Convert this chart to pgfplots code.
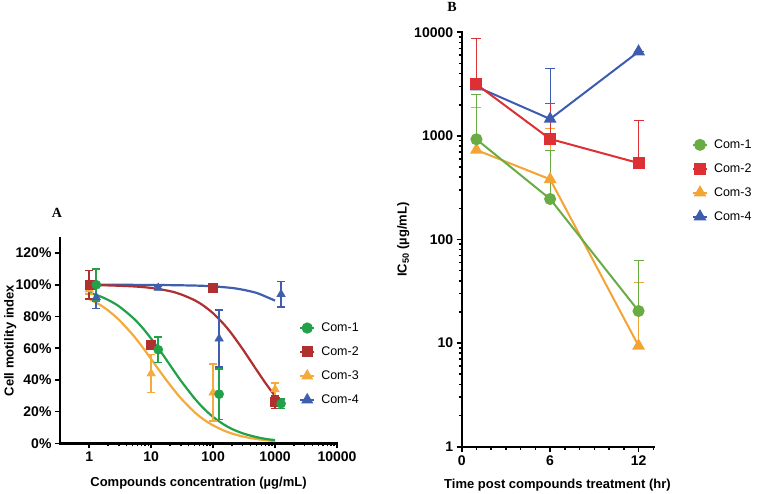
\documentclass[border=0pt]{standalone}
\usepackage{fontspec}
\setmainfont{Liberation Sans}
\newfontfamily\serifb{Liberation Serif}
\usepackage{pgfplots}
\pgfplotsset{compat=1.18}
\definecolor{gA}{RGB}{34,160,74}
\definecolor{rA}{RGB}{176,48,48}
\definecolor{oA}{RGB}{245,171,60}
\definecolor{bA}{RGB}{63,95,174}
\definecolor{gB}{RGB}{106,172,68}
\definecolor{rB}{RGB}{220,48,52}
\definecolor{oB}{RGB}{244,164,52}
\definecolor{bB}{RGB}{61,91,176}
\pgfplotsset{
  myaxis/.style={
    scale only axis,
    axis x line*=bottom, axis y line*=left,
    axis line style={line width=2.4pt, line cap=rect},
    tick align=outside,
    major tick length=5pt, minor tick length=3pt,
    every tick/.style={line width=1.6pt, black},
    /pgf/number format/assume math mode=true,
    tick label style={font=\fontsize{14}{16}\selectfont\bfseries},
    label style={font=\fontsize{13}{15}\selectfont\bfseries},
    legend style={draw=none, fill=none, font=\fontsize{12.5}{14}\selectfont, row sep=9.7pt, inner sep=0pt, legend cell align=left},
    legend image code/.code={\draw[mark repeat=2, mark phase=2] plot coordinates {(0pt,0pt)(7pt,0pt)(14pt,0pt)}; \path (18pt,0pt);},
    clip=false,
  }
}
\begin{document}
\begin{tikzpicture}
\path[use as bounding box] (0pt,0pt) rectangle (757pt,493pt);
\node[font=\serifb\bfseries\fontsize{14}{16}\selectfont] at (57pt,280.5pt) {A};
\node[font=\serifb\bfseries\fontsize{14}{16}\selectfont] at (452pt,486pt) {B};
% ---------------- Panel A
\begin{axis}[myaxis,
  at={(60pt,49.7pt)}, anchor=south west,
  width=277pt, height=205.3pt,
  xmode=log, xmin=0.337, xmax=10000,
  ymin=0, ymax=129.5,
  xtick={1,10,100,1000,10000}, xticklabels={1,10,100,1000,10000},
  ytick={0,20,40,60,80,100,120},
  yticklabels={0\%,20\%,40\%,60\%,80\%,100\%,120\%},
  minor ytick={},
  xlabel={Compounds concentration (µg/mL)},
  ylabel={Cell motility index},
  xlabel style={at={(axis description cs:0.5,-0.193)}, anchor=center},
  ylabel style={at={(axis description cs:-0.18,0.5)}, anchor=center},
  legend style={at={(axis description cs:0.863,0.597)}, anchor=north west},
]
\addlegendimage{gA, line width=2pt, mark=*, mark size=4.6pt}
\addlegendentry{Com-1}
\addlegendimage{rA, line width=2pt, mark=square*, mark size=4.5pt}
\addlegendentry{Com-2}
\addlegendimage{oA, line width=2pt, mark=triangle*, mark size=5pt}
\addlegendentry{Com-3}
\addlegendimage{bA, line width=2pt, mark=triangle*, mark size=5pt}
\addlegendentry{Com-4}
% fitted curves
\addplot[forget plot, bA, line width=2.2pt, smooth] coordinates {
 (1,100) (10,99.9) (50,99.5) (100,99.0) (200,98.0) (300,96.9) (500,94.9) (700,92.6) (1000,90.0)};
\addplot[forget plot, rA, line width=2.2pt, smooth] coordinates {
 (1,99.8) (2,99.6) (5,99.0) (10,98.0) (20,96.0) (30,94.0) (50,90.3) (70,86.8) (100,82.0) (150,75.0) (200,69.0) (300,59.4) (500,46.4) (700,38.0) (1000,29.8)};
\addplot[forget plot, oA, line width=2.2pt, smooth] coordinates {
 (1,91.0) (1.5,87.3) (2,83.9) (3,78.0) (5,68.6) (7,61.4) (10,53.1) (15,43.5) (20,37.0) (30,28.5) (50,19.7) (70,15.1) (100,11.3) (150,8.0) (200,6.2) (300,4.3) (500,2.7) (700,2.0) (1000,1.4)};
\addplot[forget plot, gA, line width=2.2pt, smooth] coordinates {
 (1,95.0) (1.5,92.7) (2,90.5) (3,86.5) (5,79.4) (7,73.5) (10,66.0) (15,56.6) (20,49.5) (30,39.6) (50,28.4) (70,22.1) (100,16.6) (150,11.8) (200,9.1) (300,6.3) (500,3.9) (700,2.8) (1000,2.0)};
% data points with error bars
\addplot[forget plot, bA, only marks, mark=triangle*, mark size=5pt,
  error bars/.cd, y dir=both, y explicit,
  error bar style={line width=1.8pt},
  error mark options={rotate=90, mark size=4pt, line width=1.8pt}]
  coordinates {(1.3,92) +- (0,7) (13,98) +- (0,1) (125,66) +- (0,18) (1250,94) +- (0,8)};
\addplot[forget plot, oA, only marks, mark=triangle*, mark size=5pt,
  error bars/.cd, y dir=both, y explicit,
  error bar style={line width=1.8pt},
  error mark options={rotate=90, mark size=4pt, line width=1.8pt}]
  coordinates {(1,97) +- (0,3) (10,44) +- (0,12) (100,32) +- (0,18) (1000,34) +- (0,4)};
\addplot[forget plot, rA, only marks, mark=square*, mark size=4.5pt,
  error bars/.cd, y dir=both, y explicit,
  error bar style={line width=1.8pt},
  error mark options={rotate=90, mark size=4pt, line width=1.8pt}]
  coordinates {(1,100) +- (0,9) (10,62) +- (0,2) (100,98) +- (0,1) (1000,26) +- (0,4)};
\addplot[forget plot, gA, only marks, mark=*, mark size=4.6pt,
  error bars/.cd, y dir=both, y explicit,
  error bar style={line width=1.8pt},
  error mark options={rotate=90, mark size=4pt, line width=1.8pt}]
  coordinates {(1.3,100) +- (0,10) (13,59) +- (0,8) (125,31) +- (0,16) (1250,25) +- (0,3)};
\end{axis}
% ---------------- Panel B
\begin{axis}[myaxis,
  at={(461.7pt,46.3pt)}, anchor=south west,
  width=191.6pt, height=414.4pt,
  ymode=log, ymin=1, ymax=10000,
  xmin=0, xmax=13,
  xtick={0,6,12}, minor xtick={1,2,3,4,5,7,8,9,10,11,13},
  ytick={1,10,100,1000,10000}, yticklabels={1,10,100,1000,10000},
  xlabel={Time post compounds treatment (hr)},
  ylabel={IC\textsubscript{50} (µg/mL)},
  xlabel style={at={(axis description cs:0.5,-0.093)}, anchor=center},
  ylabel style={at={(axis description cs:-0.305,0.5)}, anchor=center},
  legend style={at={(axis description cs:1.201,0.746)}, anchor=north west},
]
\addlegendimage{gB, line width=2pt, mark=*, mark size=5pt}
\addlegendentry{Com-1}
\addlegendimage{rB, line width=2pt, mark=square*, mark size=5pt}
\addlegendentry{Com-2}
\addlegendimage{oB, line width=2pt, mark=triangle*, mark size=5.5pt}
\addlegendentry{Com-3}
\addlegendimage{bB, line width=2pt, mark=triangle*, mark size=5.5pt}
\addlegendentry{Com-4}
\addplot[forget plot, oB, line width=2pt, mark=triangle*, mark size=5.5pt,
  error bars/.cd, y dir=plus, y explicit,
  error bar style={line width=0.9pt},
  error mark options={rotate=90, mark size=5pt, line width=0.9pt}]
  coordinates {(1,731) +- (0,1139) (6,381) +- (0,802) (12,9.4) +- (0,29.2)};
\addplot[forget plot, gB, line width=2pt, mark=*, mark size=5pt,
  error bars/.cd, y dir=plus, y explicit,
  error bar style={line width=0.9pt},
  error mark options={rotate=90, mark size=5pt, line width=0.9pt}]
  coordinates {(1,927) +- (0,1593) (6,246) +- (0,470) (12,20.4) +- (0,43)};
\addplot[forget plot, bB, line width=2pt, mark=triangle*, mark size=5.5pt,
  error bars/.cd, y dir=plus, y explicit,
  error bar style={line width=0.9pt},
  error mark options={rotate=90, mark size=5pt, line width=0.9pt}]
  coordinates {(1,2985) +- (0,0) (6,1456) +- (0,3034) (12,6500) +- (0,0)};
\addplot[forget plot, rB, line width=2pt, mark=square*, mark size=5pt,
  error bars/.cd, y dir=plus, y explicit,
  error bar style={line width=0.9pt},
  error mark options={rotate=90, mark size=5pt, line width=0.9pt}]
  coordinates {(1,3150) +- (0,5600) (6,933) +- (0,1130) (12,547) +- (0,853)};
\end{axis}
\end{tikzpicture}
\end{document}
